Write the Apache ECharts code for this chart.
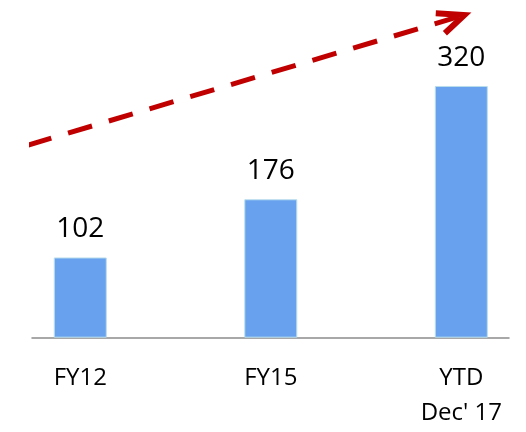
<!DOCTYPE html>
<html><head><meta charset="utf-8">
<script src="https://cdn.jsdelivr.net/npm/echarts@6/dist/echarts.min.js"></script>
<style>html,body{margin:0;padding:0;background:#fff}#c{width:526px;height:432px}</style>
</head><body><div id="c"></div>
<script>
var categories = ['FY12', 'FY15', 'YTD\nDec\' 17'];
var values = [102, 176, 320];
var categoryPositions = [0, 1, 2];
// dashed trend arrow (shaft) and its head, in data units
var trendShaft = [[-0.278, 244.6], [2.016, 410.2]];
var trendHead = [[1.866, 412.4], [2.016, 410.2], [1.914, 387.0]];

var chart = echarts.init(document.getElementById('c'), null, {renderer: 'canvas'});
var barData = categoryPositions.map(function (p, i) { return [p, values[i]]; });
chart.setOption({
  animation: false,
  grid: {left: 32, right: 17, top: 7.3, bottom: 94.3, containLabel: false},
  xAxis: {
    type: 'value', min: -0.2535, max: 2.2504,
    splitLine: {show: false},
    axisTick: {show: false},
    axisLine: {show: true, onZero: false, lineStyle: {color: '#8c8c8c', width: 1.5}},
    axisLabel: {
      customValues: categoryPositions,
      formatter: function (v) { return categories[Math.round(v)]; },
      fontFamily: 'Open Sans', fontSize: 24, color: '#000', lineHeight: 35, margin: 23,
      showMinLabel: true, showMaxLabel: true, hideOverlap: false
    }
  },
  yAxis: {type: 'value', min: 0, max: 420, show: false, splitLine: {show: false}},
  series: [
    {
      type: 'bar', data: barData, barWidth: 53,
      itemStyle: {color: '#68A2EE', borderColor: '#BCDFEC', borderWidth: 1},
      label: {show: true, position: 'top', distance: 14, fontFamily: 'Open Sans', fontSize: 28, color: '#000'}
    },
    {
      type: 'line', data: trendShaft, symbol: 'none', clip: false, silent: true,
      lineStyle: {color: '#C00000', width: 5, type: [25, 17.5], cap: 'butt'}
    },
    {
      type: 'line', data: trendHead, symbol: 'none', clip: false, silent: true,
      lineStyle: {color: '#C00000', width: 6, cap: 'butt', join: 'miter'}
    }
  ]
});
</script></body></html>
